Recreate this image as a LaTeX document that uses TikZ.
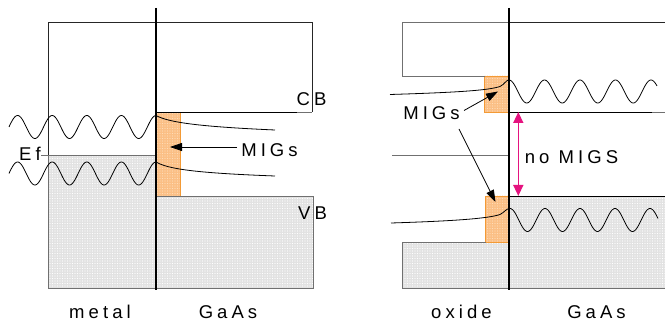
\documentclass[tikz,border=0pt]{standalone}
\usepackage{fontspec}
\newfontfamily\labelfam{Liberation Sans}[LetterSpace=22]
\usetikzlibrary{arrows.meta,patterns.meta}

\definecolor{bandgray}{HTML}{E2E2E2}
\definecolor{edgegray}{HTML}{707070}
\definecolor{migfill}{HTML}{FBBF85}
\definecolor{migdot}{HTML}{FFDDB8}
\definecolor{migedge}{HTML}{F39A35}
\definecolor{gapmag}{HTML}{E5137F}

% fine grain texture used in the filled bands
\tikzdeclarepattern{
  name=grain,
  type=uncolored,
  bottom left={(-1pt,-1pt)},
  top right={(1pt,1pt)},
  tile size={(2.5pt,2.5pt)},
  code={\fill (0pt,0pt) circle (0.55pt);}
}

\tikzset{
  filled band/.style={fill=bandgray, postaction={pattern=grain, pattern color=white}},
  mig box/.style={fill=migfill, postaction={pattern=grain, pattern color=migdot}},
  outline/.style={draw=black!85, line width=0.8pt},
  grayline/.style={draw=edgegray, line width=0.9pt},
  bandedge/.style={draw=black, line width=0.9pt},
  interface/.style={draw=black, line width=1.8pt},
  wave/.style={draw=black, line width=0.8pt},
  lbl/.style={font=\labelfam\fontsize{18.5}{21}\selectfont, inner sep=0pt, anchor=base},
  pointer/.style={draw=black, line width=0.8pt, -{Triangle[length=12pt,width=8pt]}},
  gaparrow/.style={draw=gapmag, line width=1.5pt, {Triangle[length=11pt,width=10pt]}-{Triangle[length=11pt,width=10pt]}}
}

\begin{document}
\begin{tikzpicture}[x=1pt,y=-1pt]
\useasboundingbox (0,0) rectangle (665,331);

% ---------------- metal / GaAs ----------------
% filled states
\fill[filled band] (48,155) rectangle (156,288);
\fill[filled band] (156,196) rectangle (313,288);
\fill[mig box] (156,112) rectangle (180,196);
\draw[migedge, line width=0.9pt] (180,112) -- (180,196);

% metal box
\draw[outline] (48,155) -- (48,22) -- (156,22);
\draw[grayline] (48,155) -- (48,288) -- (156,288);
% GaAs bands
\draw[outline] (156,22.5) -- (312,22.5) -- (312,112);
\draw[grayline] (297,112) -- (312,112);
\draw[bandedge] (156,112) -- (297,112);
\draw[grayline] (156,196) -- (313,196) -- (313,288) -- (156,288);
% Fermi level
\draw[grayline] (41,155) -- (156,155);

% metal wavefunctions (period 34.6) and their tails into GaAs
\draw[wave] plot[domain=9:156, samples=160, smooth] (\x, {127 - 11.5*cos(10.405*(\x-156))});
\draw[wave] plot[domain=9:156, samples=160, smooth] (\x, {173.5 - 11.5*cos(10.405*(\x-156))});
\draw[wave] (156,115.5) .. controls (168,122) and (195,126.5) .. (275,130);
\draw[wave] (156,162) .. controls (168,169) and (195,173) .. (275,176);

\draw[interface] (156,8) -- (156,290);

% labels
\node[lbl] (cbL) at (311.5,106) {CB};
\node[lbl] (vbL) at (312.5,220) {VB};
\node[lbl] (ef) at (30,160.5) {Ef};
\node[lbl] (migsL) at (269.5,156.5) {MIGs};
\coordinate (migsLtip) at (170,147);
\coordinate (migsLtail) at (237,147);
\draw[pointer] (migsLtail) -- (migsLtip);
\node[lbl] (metal) at (100,318.5) {metal};
\node[lbl] (gaasL) at (228,318.5) {GaAs};

% ---------------- oxide / GaAs ----------------
\fill[filled band] (402,242) rectangle (509,288);
\fill[filled band] (509,196) rectangle (665,288);
\fill[mig box] (484.5,76) rectangle (509,112.5);
\fill[mig box] (485.5,196) rectangle (509,242);
\draw[migedge, line width=0.9pt] (509,76) -- (484.5,76) -- (484.5,112.5) -- (509,112.5);
\draw[migedge, line width=0.9pt] (509,196) -- (485.5,196) -- (485.5,242) -- (509,242);

% oxide bands
\draw[grayline] (509,22) -- (402,22) -- (402,76) -- (484.5,76);
\draw[grayline] (485.5,242) -- (402,242) -- (402,288) -- (509,288);
\draw[grayline] (392,155) -- (509,155);
% GaAs bands
\draw[outline] (509,22) -- (665,22);
\draw[bandedge] (509,112) -- (652,112);
\draw[grayline] (652,112) -- (665,112);
\draw[bandedge] (509,196) -- (665,196);
\draw[grayline] (509,288) -- (665,288);

% GaAs wavefunctions and their tails into the oxide
\draw[wave] plot[domain=509:657, samples=160, smooth] (\x, {91.5 - 11.5*cos(10.141*(\x-509))});
\draw[wave] plot[domain=510:658, samples=160, smooth] (\x, {220 - 11.5*cos(10.286*(\x-510))});
\draw[wave] (390,94.5) .. controls (455,92.5) and (488,90.5) .. (500,86.5) .. controls (505,84) and (506,80) .. (509,80);
\draw[wave] (391,223) .. controls (455,221) and (488,218.5) .. (500,214.5) .. controls (505,212) and (506,208.5) .. (510,208.5);

\draw[interface] (509.3,8) -- (509.3,290);

% band gap marker
\coordinate (gapTop) at (518.3,112);
\coordinate (gapBot) at (518.3,196);
\draw[gaparrow] (gapTop) -- (gapBot);
\node[lbl] (nomigs) at (571.5,164) {no MIGS};

% MIGS pointers
\node[lbl] (migsR) at (431.5,119.3) {MIGs};
\coordinate (migsRtipA) at (498,91.5);
\coordinate (migsRtipB) at (495.5,202);
\coordinate (migsRtailA) at (464,110.5);
\coordinate (migsRtailB) at (459,129);
\draw[pointer] (migsRtailA) -- (migsRtipA);
\draw[pointer] (migsRtailB) -- (migsRtipB);

\node[lbl] (oxide) at (461.5,319) {oxide};
\node[lbl] (gaasR) at (596.5,319) {GaAs};
\end{tikzpicture}
\end{document}
